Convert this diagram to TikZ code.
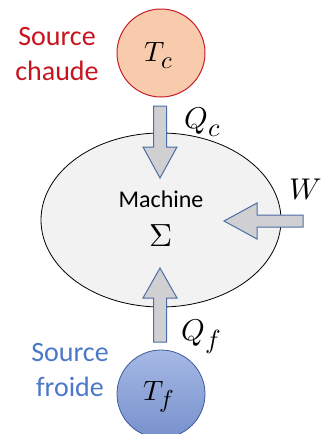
\documentclass[tikz,border=0pt]{standalone}
\usepackage{fontspec}
\usepackage{unicode-math}
\usepackage{graphicx}
\setmainfont{Carlito}
\setmathfont{Latin Modern Math}
\newcommand{\bigsub}[1]{\scalebox{1.25}{$\scriptstyle #1$}}
\usetikzlibrary{shapes.geometric}
\begin{document}
\begin{tikzpicture}[x=1pt,y=-1pt,
  label text/.style={font=\fontsize{28}{35}\selectfont, align=center, inner sep=0pt},
  math text/.style={inner sep=0pt},
  flow arrow/.style={draw=arrowblue, fill=arrowgray, line width=1pt, line join=miter},
]
\definecolor{hotfill}{RGB}{248,203,173}
\definecolor{hotline}{RGB}{200,30,40}
\definecolor{hottext}{RGB}{200,20,30}
\definecolor{coldtop}{RGB}{165,185,228}
\definecolor{coldbot}{RGB}{120,145,205}
\definecolor{coldline}{RGB}{60,90,155}
\definecolor{coldtext}{RGB}{75,120,200}
\definecolor{arrowblue}{RGB}{75,110,165}
\definecolor{arrowgray}{RGB}{208,208,210}
\definecolor{machinefill}{RGB}{242,242,242}
\useasboundingbox (0,0) rectangle (334,434);
% machine
\node[draw=black, line width=0.8pt, fill=machinefill, ellipse, minimum width=240pt, minimum height=174pt, inner sep=0pt] (mach) at (161,220) {};
\node[font=\fontsize{24}{26}\selectfont, inner sep=0pt] (machtxt) at (161,199) {Machine};
\node[math text, font=\fontsize{32}{34}\selectfont] (sigma) at (161,236) {$\Sigma$};
% sources
\node[circle, draw=hotline, line width=1pt, fill=hotfill, minimum size=88pt, inner sep=0pt] (hot) at (161,53) {};
\node[math text, font=\fontsize{28}{30}\selectfont] (Tc) at (159,56) {$T_{\bigsub{c}}$};
\node[circle, draw=coldline, line width=0.8pt, top color=coldtop, bottom color=coldbot, minimum size=88pt, inner sep=0pt] (cold) at (161,394) {};
\node[math text, font=\fontsize{28}{30}\selectfont] (Tf) at (159,397) {$T_{\bigsub{f}}$};
\node[label text, text=hottext] (hotlbl) at (57,54) {Source\\chaude};
\node[label text, text=coldtext] (coldlbl) at (70,370) {Source\\froide};
% arrows
\coordinate (qcTop) at (160,106);
\coordinate (qcTip) at (160,178);
\draw[flow arrow] (153.5,106) -- (166.5,106) -- (166.5,147) -- (177,147) -- (qcTip) -- (143,147) -- (153.5,147) -- cycle;
\coordinate (qfTip) at (160,268);
\draw[flow arrow] (153.5,342) -- (166.5,342) -- (166.5,298) -- (177,298) -- (qfTip) -- (143,298) -- (153.5,298) -- cycle;
\coordinate (wTip) at (224,221);
\draw[flow arrow] (303,215) -- (303,227) -- (257,227) -- (257,239) -- (wTip) -- (257,203) -- (257,215) -- cycle;
% flow labels
\node[math text, font=\fontsize{30}{32}\selectfont] (Qc) at (203,122) {$Q_{\bigsub{c}}$};
\node[math text, font=\fontsize{30}{32}\selectfont] (Qf) at (201,337) {$Q_{\bigsub{f}}$};
\node[math text, font=\fontsize{30}{32}\selectfont] (W) at (306,190) {$W$};
\end{tikzpicture}
\end{document}
